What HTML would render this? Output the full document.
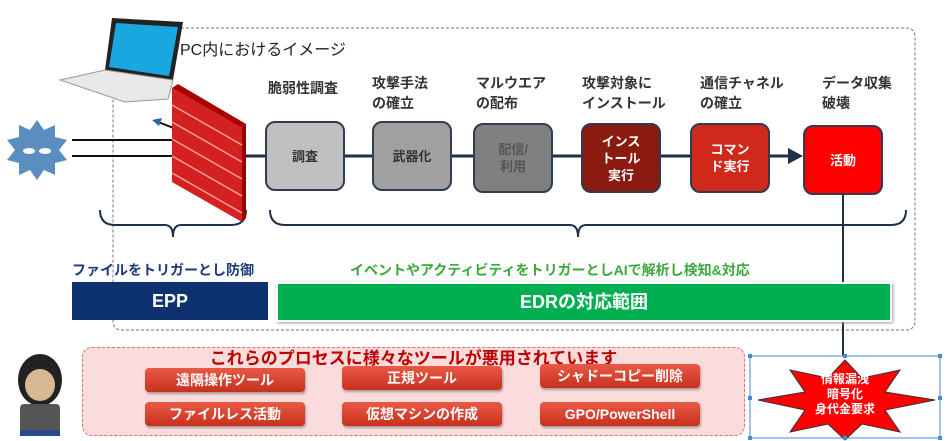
<!DOCTYPE html>
<html><head><meta charset="utf-8"><style>
body{margin:0;width:950px;height:441px;background:#fff;overflow:hidden;position:relative;font-family:"Liberation Sans","Noto Sans CJK JP",sans-serif}
.a{position:absolute}
.lbl{position:absolute;font-size:14px;font-weight:bold;color:#333;line-height:20px}
.box{position:absolute;width:80px;height:70px;border:2px solid #2e3e50;border-radius:10px;box-sizing:border-box;display:flex;align-items:center;justify-content:center;text-align:center;font-size:13px;font-weight:bold;line-height:17px}
.btn{position:absolute;width:160px;height:24px;border-radius:4px;background:linear-gradient(#e85a45,#c8301e);color:#fff;font-weight:bold;font-size:14px;text-align:center;line-height:24px;box-shadow:1px 2px 2px rgba(0,0,0,.3)}
</style></head><body>
<svg class="a" style="left:0;top:0" width="950" height="441">
<rect x="113" y="28" width="802" height="302" rx="8" fill="none" stroke="#777" stroke-dasharray="3,2"/>
<line x1="200" y1="156" x2="790" y2="156" stroke="#1e3148" stroke-width="3"/>
<polygon points="788,148 803,156 788,164" fill="#1e3148"/>
<line x1="843" y1="195" x2="843" y2="356" stroke="#1e3148" stroke-width="2"/>
<path d="M100,210 q0,15 15,15 h50 q8,0 8,12 q0,-12 8,-12 h50 q15,0 15,-15" fill="none" stroke="#1e3148" stroke-width="2"/>
<path d="M270,210 q0,15 15,15 h285 q8,0 8,12 q0,-12 8,-12 h305 q15,0 15,-15" fill="none" stroke="#1e3148" stroke-width="2"/>
<polygon points="112,18 183,22 173,80 105,70" fill="#222"/>
<polygon points="116,23 178,27 169,76 109,67" fill="#1aa7e0"/>
<polygon points="60,80 105,70 173,80 168,99 125,102" fill="#e8e8e8" stroke="#999"/>
<g transform="translate(37,150)">
<polygon points="0,-30 7,-20 18,-25 18,-13 30,-10 22,0 30,10 18,13 18,25 7,20 0,30 -7,20 -18,25 -18,13 -30,10 -22,0 -30,-10 -18,-13 -18,-25 -7,-20" fill="#5b8ec0"/>
<ellipse cx="-8" cy="1" rx="6" ry="3" fill="#fff"/><ellipse cx="8" cy="1" rx="6" ry="3" fill="#fff"/>
</g>
<line x1="72" y1="140" x2="205" y2="140" stroke="#111" stroke-width="2"/>
<line x1="72" y1="156" x2="212" y2="156" stroke="#111" stroke-width="2"/>
<line x1="205" y1="140" x2="158" y2="122" stroke="#111" stroke-width="2"/>
<polygon points="152,120 162,118 159,126" fill="#3060a0"/>
<polygon points="172,88 242,128 242,222 172,182" fill="#d42020"/>
<polygon points="172,88 178,84 246,124 242,128" fill="#a00"/>
<polygon points="242,128 246,124 246,218 242,222" fill="#900"/>
<g stroke="#f2a0a0" stroke-width="1.5" fill="none">
<path d="M172,105 L242,145 M172,122 L242,162 M172,139 L242,179 M172,156 L242,196 M172,173 L242,213"/>
</g>
<rect x="750" y="356" width="190" height="82" fill="none" stroke="#4a8ad0"/>
<polygon points="845,360 862,378 900,370 885,392 935,400 885,410 900,432 862,424 845,440 828,424 790,432 805,410 758,400 805,392 790,370 828,378" fill="#f00" stroke="#333"/>
<g fill="#4a8ad0"><rect x="748" y="354" width="4" height="4"/><rect x="843" y="354" width="4" height="4"/><rect x="938" y="354" width="4" height="4"/><rect x="748" y="396" width="4" height="4"/><rect x="938" y="396" width="4" height="4"/><rect x="748" y="436" width="4" height="4"/><rect x="843" y="436" width="4" height="4"/><rect x="938" y="436" width="4" height="4"/></g>
<ellipse cx="40" cy="380" rx="22" ry="26" fill="#222"/>
<ellipse cx="40" cy="385" rx="15" ry="16" fill="#d8b890"/>
<rect x="20" y="404" width="40" height="32" rx="4" fill="#555"/>
<rect x="20" y="430" width="40" height="6" fill="#2a4a8a"/>
</svg>
<div class="a" style="left:180px;top:36px;font-size:16px;color:#222">PC内におけるイメージ</div>
<div class="lbl" style="left:268px;top:78px">脆弱性調査</div>
<div class="lbl" style="left:372px;top:73px">攻撃手法<br>の確立</div>
<div class="lbl" style="left:476px;top:73px">マルウエア<br>の配布</div>
<div class="lbl" style="left:582px;top:73px">攻撃対象に<br>インストール</div>
<div class="lbl" style="left:700px;top:73px">通信チャネル<br>の確立</div>
<div class="lbl" style="left:822px;top:73px">データ収集<br>破壊</div>
<div class="box" style="left:265px;top:121px;background:#c0c0c0;color:#333">調査</div>
<div class="box" style="left:372px;top:121px;background:#a0a0a0;color:#333">武器化</div>
<div class="box" style="left:473px;top:123px;background:#808080;color:#555">配信/<br>利用</div>
<div class="box" style="left:581px;top:123px;background:#8b1a10;color:#fff">インス<br>トール<br>実行</div>
<div class="box" style="left:690px;top:123px;background:#d0281a;color:#fff">コマン<br>ド実行</div>
<div class="box" style="left:803px;top:125px;background:#f00;color:#fff">活動</div>
<div class="a" style="left:72px;top:260px;font-size:14px;font-weight:bold;color:#1a3a7a">ファイルをトリガーとし防御</div>
<div class="a" style="left:350px;top:260px;font-size:14px;font-weight:bold;color:#3aa83a">イベントやアクティビティをトリガーとしAIで解析し検知&amp;対応</div>
<div class="a" style="left:72px;top:282px;width:196px;height:38px;background:#0e3170;color:#fff;font-weight:bold;font-size:18px;text-align:center;line-height:38px">EPP</div>
<div class="a" style="left:276px;top:282px;width:612px;height:36px;background:#00b050;border:2px solid #fff;box-shadow:1px 1px 3px #999;color:#fff;font-weight:bold;font-size:18px;text-align:center;line-height:36px">EDRの対応範囲</div>
<div class="a" style="left:82px;top:347px;width:663px;height:89px;background:#fadcdc;border:1px dashed #e07070;border-radius:10px;box-sizing:border-box"></div>
<div class="a" style="left:82px;top:344px;width:663px;text-align:center;font-size:17px;font-weight:bold;color:#c00000">これらのプロセスに様々なツールが悪用されています</div>
<div class="btn" style="left:145px;top:368px">遠隔操作ツール</div>
<div class="btn" style="left:342px;top:366px">正規ツール</div>
<div class="btn" style="left:540px;top:364px">シャドーコピー削除</div>
<div class="btn" style="left:145px;top:402px">ファイルレス活動</div>
<div class="btn" style="left:342px;top:402px">仮想マシンの作成</div>
<div class="btn" style="left:540px;top:402px">GPO/PowerShell</div>
<div class="a" style="left:790px;top:372px;width:110px;text-align:center;color:#fff;font-weight:bold;font-size:12px;line-height:15px">情報漏洩<br>暗号化<br>身代金要求</div>
</body></html>
